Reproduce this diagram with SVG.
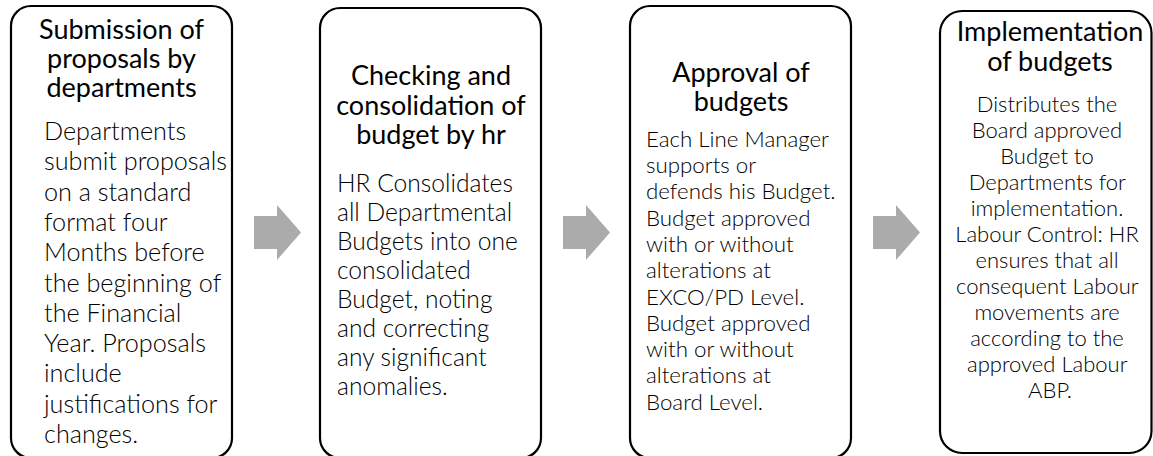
<svg xmlns="http://www.w3.org/2000/svg" width="1153" height="456" viewBox="0 0 1153 456">
  <style>
    .box { fill: #ffffff; stroke: #000000; stroke-width: 2.2; }
    .arrow { fill: #ababab; stroke: none; }
    .title { font-family: Lato, "Liberation Sans", sans-serif; font-size: 27px; fill: #000000; text-anchor: middle; }
    .body { font-family: Lato, "Liberation Sans", sans-serif; font-weight: 300; fill: #000000; }
    .b1 { font-size: 25.2px; }
    .b2 { font-size: 24.6px; }
    .b3 { font-size: 22.3px; }
    .b4 { font-size: 22px; text-anchor: middle; }
  </style>
  <rect width="1153" height="456" fill="#ffffff"/>

  <!-- Flow arrows between the stages -->
  <g id="connectors">
    <polygon class="arrow" points="254,216 277,216 277,205 301,232.5 277,260 277,249 254,249"/>
    <polygon class="arrow" points="563,216 586,216 586,205 610,232.5 586,260 586,249 563,249"/>
    <polygon class="arrow" points="873,216 896,216 896,205 920,232.5 896,260 896,249 873,249"/>
  </g>

  <!-- Stage 1 -->
  <g id="submission">
    <rect class="box" x="11" y="6" width="221" height="452" rx="20" ry="20"/>
    <text class="title" x="121.5" y="39">Submission of</text>
    <text class="title" x="121.5" y="68">proposals by</text>
    <text class="title" x="121.5" y="97">departments</text>
    <text class="body b1" x="44">
      <tspan x="44" y="140">Departments</tspan>
      <tspan x="44" y="170.3">submit proposals</tspan>
      <tspan x="44" y="200.6">on a standard</tspan>
      <tspan x="44" y="230.9">format four</tspan>
      <tspan x="44" y="261.2">Months before</tspan>
      <tspan x="44" y="291.5">the beginning of</tspan>
      <tspan x="44" y="321.8">the Financial</tspan>
      <tspan x="44" y="352.1">Year. Proposals</tspan>
      <tspan x="44" y="382.4">include</tspan>
      <tspan x="44" y="412.7">justifications for</tspan>
      <tspan x="44" y="443">changes.</tspan>
    </text>
  </g>

  <!-- Stage 2 -->
  <g id="consolidation">
    <rect class="box" x="320" y="8" width="221" height="450" rx="20" ry="20"/>
    <text class="title" x="431" y="85">Checking and</text>
    <text class="title" x="431" y="115">consolidation of</text>
    <text class="title" x="431" y="144">budget by hr</text>
    <text class="body b2" x="337">
      <tspan x="337" y="192">HR Consolidates</tspan>
      <tspan x="337" y="221">all Departmental</tspan>
      <tspan x="337" y="250">Budgets into one</tspan>
      <tspan x="337" y="279">consolidated</tspan>
      <tspan x="337" y="308">Budget, noting</tspan>
      <tspan x="337" y="337">and correcting</tspan>
      <tspan x="337" y="366">any significant</tspan>
      <tspan x="337" y="395">anomalies.</tspan>
    </text>
  </g>

  <!-- Stage 3 -->
  <g id="approval">
    <rect class="box" x="630" y="6" width="221" height="452" rx="20" ry="20"/>
    <text class="title" x="741" y="82">Approval of</text>
    <text class="title" x="741" y="111">budgets</text>
    <text class="body b3" x="646">
      <tspan x="646" y="146.7">Each Line Manager</tspan>
      <tspan x="646" y="173">supports or</tspan>
      <tspan x="646" y="199.3">defends his Budget.</tspan>
      <tspan x="646" y="225.6">Budget approved</tspan>
      <tspan x="646" y="251.9">with or without</tspan>
      <tspan x="646" y="278.2">alterations at</tspan>
      <tspan x="646" y="304.5">EXCO/PD Level.</tspan>
      <tspan x="646" y="330.8">Budget approved</tspan>
      <tspan x="646" y="357.1">with or without</tspan>
      <tspan x="646" y="383.4">alterations at</tspan>
      <tspan x="646" y="409.7">Board Level.</tspan>
    </text>
  </g>

  <!-- Stage 4 -->
  <g id="implementation">
    <rect class="box" x="940" y="11" width="211.5" height="442" rx="22" ry="22"/>
    <text class="title" x="1050" y="41">Implementation</text>
    <text class="title" x="1050" y="71">of budgets</text>
    <text class="body b4" x="1050">
      <tspan x="1050" y="111.7">Distributes the</tspan>
      <tspan x="1050" y="137.7">Board approved</tspan>
      <tspan x="1050" y="163.7">Budget to</tspan>
      <tspan x="1050" y="189.7">Departments for</tspan>
      <tspan x="1050" y="215.7">implementation.</tspan>
      <tspan x="1050" y="241.7">Labour Control: HR</tspan>
      <tspan x="1050" y="267.7">ensures that all</tspan>
      <tspan x="1050" y="293.7">consequent Labour</tspan>
      <tspan x="1050" y="319.7">movements are</tspan>
      <tspan x="1050" y="345.7">according to the</tspan>
      <tspan x="1050" y="371.7">approved Labour</tspan>
      <tspan x="1050" y="397.7">ABP.</tspan>
    </text>
  </g>
</svg>
